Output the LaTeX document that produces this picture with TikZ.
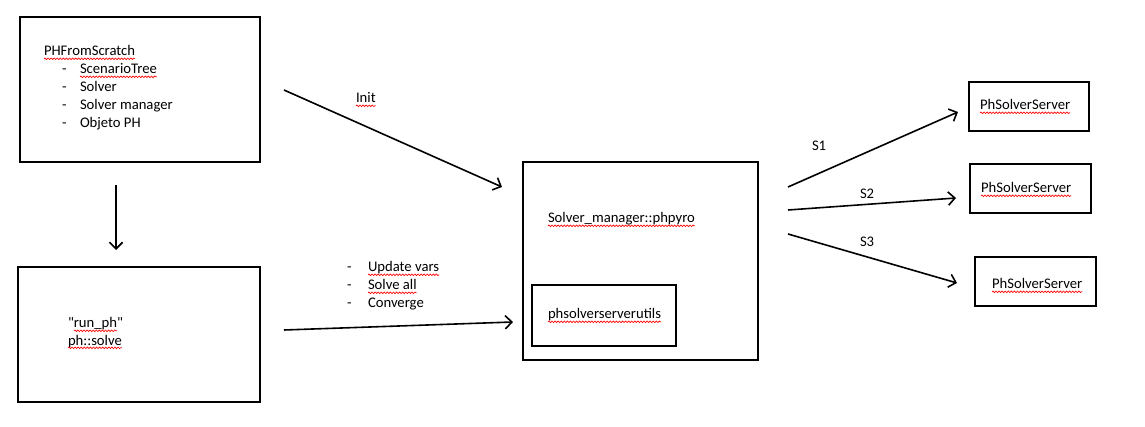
\documentclass[tikz,border=0pt]{standalone}
\usepackage{fontspec}
\setmainfont{Carlito}[Ligatures=TeXOff]
\usetikzlibrary{arrows.meta,fit,decorations.pathmorphing}
\tikzset{
  box/.style={draw, line width=1.6pt, inner sep=0pt},
  txt/.style={anchor=base west, inner sep=0pt, outer sep=0pt, font=\fontsize{11}{13}\selectfont},
  arr/.style={line width=1.2pt, -{Straight Barb[length=5pt,width=10pt]}},
  squig/.style={red, line width=0.5pt, decorate, decoration={snake, amplitude=0.6pt, segment length=2.3pt}}
}
\newcommand{\squ}[1]{\draw[squig] ([yshift=-2.1pt]#1.base west) -- ([yshift=-2.1pt]#1.base east);}
\begin{document}
\begin{tikzpicture}[x=0.75pt,y=-0.75pt]
\useasboundingbox (0,0) rectangle (1145,427);
% boxes
\node[box, fit={(20,17) (260,162)}] (A) {};
\node[box, fit={(18,267) (260,402)}] (B) {};
\node[box, fit={(523,162) (758,360)}] (C) {};
\node[box, fit={(532,285) (676,346)}] (U) {};
\node[box, fit={(969,82) (1089,131)}] (S1b) {};
\node[box, fit={(970,164) (1091,213)}] (S2b) {};
\node[box, fit={(975,257) (1096,306)}] (S3b) {};
% box A text
\node[txt] (a0) at (44,56) {PHFromScratch}; \squ{a0}
\node[txt] (d1) at (62,74) {-};
\node[txt] (a1) at (80,74) {ScenarioTree}; \squ{a1}
\node[txt] (d2) at (62,92) {-};
\node[txt] (a2) at (80,92) {Solver};
\node[txt] (d3) at (62,110) {-};
\node[txt] (a3) at (80,110) {Solver manager};
\node[txt] (d4) at (62,128) {-};
\node[txt] (a4) at (80,128) {Objeto PH};
% box B text
\node[txt] (q1) at (68,328) {"};
\node[txt] (b1) at (q1.base east) {run\_ph}; \squ{b1}
\node[txt] (q2) at (b1.base east) {"};
\node[txt] (b2) at (68,345) {ph::solve}; \squ{b2}
% box C text
\node[txt] (c1) at (548,223) {Solver\_manager::phpyro}; \squ{c1}
\node[txt] (u1) at (548,319) {phsolverserverutils}; \squ{u1}
% servers
\node[txt] (s1t) at (980,110) {PhSolverServer}; \squ{s1t}
\node[txt] (s2t) at (981,193) {PhSolverServer}; \squ{s2t}
\node[txt] (s3t) at (992,289) {PhSolverServer}; \squ{s3t}
% labels
\node[txt] (init) at (356,103) {Init}; \squ{init}
\node[txt] (e1) at (347,272) {-};
\node[txt] (m1) at (368,272) {Update vars}; \squ{m1}
\node[txt] (e2) at (347,290) {-};
\node[txt] (m2) at (368,290) {Solve all}; \squ{m2}
\node[txt] (e3) at (347,308) {-};
\node[txt] (m3) at (368,308) {Converge};
\node[txt] (l1) at (812,151) {S1};
\node[txt] (l2) at (860,199) {S2};
\node[txt] (l3) at (860,247) {S3};
% connector ends
\coordinate (p0) at (116,185); \coordinate (p1) at (116,250);
\coordinate (i0) at (284,90);  \coordinate (i1) at (502,187);
\coordinate (m0) at (284,330); \coordinate (mm) at (513,322);
\coordinate (r1) at (788,187); \coordinate (t1) at (958,112);
\coordinate (r2) at (788,210); \coordinate (t2) at (956,198);
\coordinate (r3) at (788,234); \coordinate (t3) at (957,283);
\draw[arr] (p0) -- (p1);
\draw[arr] (i0) -- (i1);
\draw[arr] (m0) -- (mm);
\draw[arr] (r1) -- (t1);
\draw[arr] (r2) -- (t2);
\draw[arr] (r3) -- (t3);
\end{tikzpicture}
\end{document}
